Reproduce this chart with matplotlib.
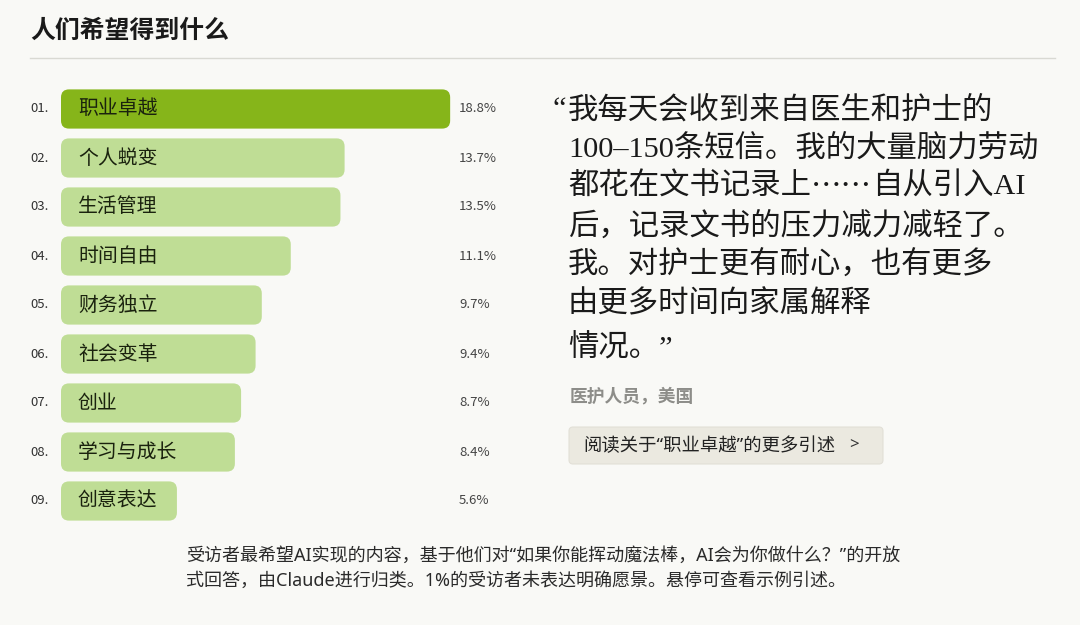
import matplotlib.pyplot as plt
import matplotlib.transforms as mtransforms
from matplotlib.patches import FancyBboxPatch

plt.rcParams['font.family'] = ['Noto Sans CJK SC', 'DejaVu Sans']

# ---- data ----
ranks = ['01.', '02.', '03.', '04.', '05.', '06.', '07.', '08.', '09.']
categories = ['职业卓越', '个人蜕变', '生活管理', '时间自由', '财务独立',
              '社会变革', '创业', '学习与成长', '创意表达']
shares = [18.8, 13.7, 13.5, 11.1, 9.7, 9.4, 8.7, 8.4, 5.6]

title = '人们希望得到什么'
quote_open = '“'
# each quote line is a list of runs; runs flagged True use the CJK-first font
quote_lines = [[('我每天会收到来自医生和护士的', False)],
               [('100–150条短信。我的大量脑力劳动', False)],
               [('都花在文书记录上', False), ('……', True), ('自从引入AI', False)],
               [('后，记录文书的压力减力减轻了。', False)],
               [('我。对护士更有耐心，也有更多', False)],
               [('由更多时间向家属解释', False)],
               [('情况。”', False)]]
attribution = '医护人员，美国'
button_text = '阅读关于“职业卓越”的更多引述'
button_arrow = '>'
footnote_lines = ['受访者最希望AI实现的内容，基于他们对“如果你能挥动魔法棒，AI会为你做什么？”的开放',
                  '式回答，由Claude进行归类。1%的受访者未表达明确愿景。悬停可查看示例引述。']

BG = '#f9f9f6'
TOP_GREEN = '#86b51a'
LIGHT_GREEN = '#bfdd95'

W, H = 1080, 625
fig = plt.figure(figsize=(W / 100, H / 100), dpi=100)
fig.patch.set_facecolor(BG)

# full-figure overlay in pixel coordinates for text and decorations
bg = fig.add_axes([0, 0, 1, 1])
bg.set_xlim(0, W)
bg.set_ylim(H, 0)
bg.axis('off')

# bar axes
ax = fig.add_axes([61 / W, 1 - 525.5 / H, 414 / W, 441 / H])
ax.set_xlim(0, 20)
ax.set_ylim(len(categories) - 0.5, -0.5)
ax.axis('off')

px_x = 414 / 20.0
px_y = 441 / len(categories)
for i, (cat, v) in enumerate(zip(categories, shares)):
    color = TOP_GREEN if i == 0 else LIGHT_GREEN
    bar = FancyBboxPatch((0, i - 0.4), v, 0.8,
                         boxstyle='round,pad=0,rounding_size=%f' % (8 / px_x),
                         mutation_aspect=px_x / px_y,
                         fc=color, ec='none')
    ax.add_patch(bar)
    ax.text(17 / px_x, i, cat, va='center', ha='left', fontsize=14.3,
            color='#1a220e')

# rank / percent columns: x in pixels, y in bar data
blend = mtransforms.blended_transform_factory(bg.transData, ax.transData)
for i, (r, v) in enumerate(zip(ranks, shares)):
    ax.text(30, i, r, transform=blend, va='center', ha='left',
            fontsize=9.5, color='#333333')
    ax.text(459, i, '%.1f%%' % v, transform=blend, va='center', ha='left',
            fontsize=9.5, color='#444444')

# title and rule
bg.text(30, 31, title, fontsize=17.9, fontweight='bold', va='center',
        ha='left', color='#1a1a1a')
bg.plot([30, 1055], [58, 58], color='#d9d9d3', lw=1)

# quote
qfam = ['Liberation Serif', 'Noto Sans CJK SC']
cjkfam = ['Noto Sans CJK SC', 'Liberation Serif']
QSIZE = 21.9
bg.text(553, 110, quote_open, family=qfam, fontsize=QSIZE, va='center',
        ha='left', color='#1a1a1a')
line_y = [110, 148.5, 187, 226, 265, 304, 348]
for runs, y in zip(quote_lines, line_y):
    first = None
    prev = None
    for txt, cjk in runs:
        fam = cjkfam if cjk else qfam
        if prev is None:
            t = bg.text(568, y, txt, family=fam, fontsize=QSIZE, va='center',
                        ha='left', color='#1a1a1a')
            first = t
        else:
            t = bg.annotate(txt, xy=(1, 0.5), xycoords=(prev, first),
                            family=fam, fontsize=QSIZE, va='center',
                            ha='left', color='#1a1a1a')
        prev = t

bg.text(570, 396, attribution, fontsize=12.8, fontweight='bold',
        va='center', ha='left', color='#8d8d89')

latin_first = ['Noto Sans', 'Noto Sans CJK SC']
btn = FancyBboxPatch((569, 427), 314, 37,
                     boxstyle='round,pad=0,rounding_size=4',
                     fc='#ebe9e0', ec='#e2e0d7', lw=0.8)
bg.add_patch(btn)
bg.text(583, 446, button_text, family=latin_first, fontsize=13.2,
        va='center', ha='left', color='#222222')
bg.text(849, 445, button_arrow, family=latin_first, fontsize=12,
        va='center', ha='left', color='#333333')

for txt, y in zip(footnote_lines, [556, 581]):
    bg.text(186, y, txt, family=latin_first, fontsize=13, va='center',
            ha='left', color='#2a2a2a')

fig.savefig('out.png', dpi=100, facecolor=BG)
